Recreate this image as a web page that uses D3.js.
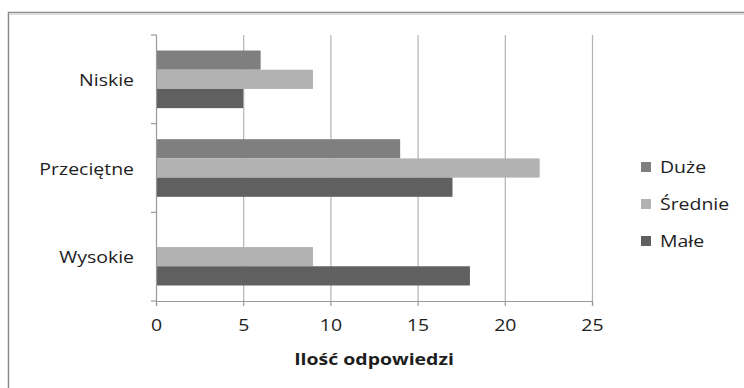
<!DOCTYPE html>
<html>
<head>
<meta charset="utf-8">
<script src="https://cdn.jsdelivr.net/npm/d3@7"></script>
<style>
  html, body { margin: 0; padding: 0; background: #fff; }
  svg { display: block; }
  text { font-family: "Open Sans", "DejaVu Sans", sans-serif; fill: #1e1e1e; }
</style>
</head>
<body>
<svg id="chart" width="744" height="388"></svg>
<script>
// Response levels (top to bottom) and the three series
const categories = ["Niskie", "Przeciętne", "Wysokie"];
const seriesNames = ["Duże", "Średnie", "Małe"];
const seriesColors = ["#7f7f7f", "#b2b2b2", "#606060"];
const duzeValues = [6, 14, 0];
const srednieValues = [9, 22, 9];
const maleValues = [5, 17, 18];
const xTicks = [0, 5, 10, 15, 20, 25];
const xTitle = "Ilość odpowiedzi";

const seriesValues = [duzeValues, srednieValues, maleValues];

const svg = d3.select("#chart");
const stretch = 1.18; // horizontal text widening
const labelSize = 16.5;

const plotLeft = 156, plotRight = 592, plotTop = 35, plotBottom = 301;

// Frame around the chart
svg.append("rect")
  .attr("x", 8.5).attr("y", 12.5)
  .attr("width", 800).attr("height", 400)
  .attr("fill", "none").attr("stroke", "#8c8c8c").attr("stroke-width", 1.5);
svg.append("line")
  .attr("x1", 10).attr("x2", 744).attr("y1", 14.5).attr("y2", 14.5)
  .attr("stroke", "#d8d8d8").attr("stroke-width", 1);

const x = d3.scaleLinear().domain([0, 25]).range([plotLeft, plotRight]);
const y0 = d3.scaleBand().domain(categories).range([plotTop, plotBottom])
  .paddingInner(0.35).paddingOuter(0.175);
const y1 = d3.scaleBand().domain(seriesNames).range([0, y0.bandwidth()]);

// Vertical gridlines
svg.append("g").selectAll("line")
  .data(xTicks.filter(d => d > 0))
  .join("line")
  .attr("x1", d => x(d) + 0.5).attr("x2", d => x(d) + 0.5)
  .attr("y1", plotTop).attr("y2", plotBottom)
  .attr("stroke", "#b3b3b3").attr("stroke-width", 1.2);

// Bars
const rows = [];
categories.forEach((c, i) => {
  seriesNames.forEach((s, j) => {
    rows.push({ cat: c, series: s, value: seriesValues[j][i], color: seriesColors[j] });
  });
});
svg.append("g").selectAll("rect")
  .data(rows)
  .join("rect")
  .attr("x", x(0))
  .attr("y", d => y0(d.cat) + y1(d.series))
  .attr("width", d => x(d.value) - x(0))
  .attr("height", y1.bandwidth())
  .attr("fill", d => d.color);

// Bottom axis
const xAxis = svg.append("g")
  .attr("transform", `translate(0,${plotBottom})`)
  .call(d3.axisBottom(x).tickValues(xTicks).tickSize(5).tickPadding(13));
xAxis.select(".domain").attr("stroke", "#999").attr("stroke-width", 1.2);
xAxis.selectAll(".tick line").attr("stroke", "#999").attr("stroke-width", 1.2);
xAxis.selectAll(".tick text")
  .attr("font-size", labelSize).attr("fill", "#1e1e1e")
  .attr("transform", `scale(${stretch},1)`)
  .style("font-family", "'Open Sans', sans-serif");

// Left axis with ticks at category boundaries
const yAxisG = svg.append("g");
yAxisG.append("line")
  .attr("x1", plotLeft + 0.5).attr("x2", plotLeft + 0.5)
  .attr("y1", plotTop).attr("y2", plotBottom)
  .attr("stroke", "#999").attr("stroke-width", 1.2);
const boundaries = d3.range(categories.length + 1).map(i => plotTop + i * y0.step());
yAxisG.selectAll("line.tick")
  .data(boundaries)
  .join("line")
  .attr("class", "tick")
  .attr("x1", plotLeft - 5).attr("x2", plotLeft + 0.5)
  .attr("y1", d => d).attr("y2", d => d)
  .attr("stroke", "#999").attr("stroke-width", 1.2);
yAxisG.selectAll("text")
  .data(categories)
  .join("text")
  .attr("transform", d => `translate(134,${y0(d) + y0.bandwidth() / 2 + 1}) scale(${stretch},1)`)
  .attr("text-anchor", "end")
  .attr("dy", "0.35em")
  .attr("font-size", labelSize)
  .text(d => d);

// Axis title
svg.append("text")
  .attr("transform", `translate(374,359) scale(${stretch},1)`)
  .attr("text-anchor", "middle")
  .attr("dy", "0.35em")
  .attr("font-size", 16.5)
  .attr("font-weight", "bold")
  .text(xTitle);

// Legend
const legend = svg.append("g").selectAll("g")
  .data(seriesNames)
  .join("g")
  .attr("transform", (d, i) => `translate(641,${167 + i * 37})`);
legend.append("rect")
  .attr("x", 0).attr("y", -5)
  .attr("width", 10).attr("height", 10)
  .attr("fill", (d, i) => seriesColors[i]);
legend.append("text")
  .attr("transform", `translate(19,0) scale(${stretch},1)`)
  .attr("dy", "0.35em")
  .attr("font-size", labelSize)
  .text(d => d);
</script>
</body>
</html>
